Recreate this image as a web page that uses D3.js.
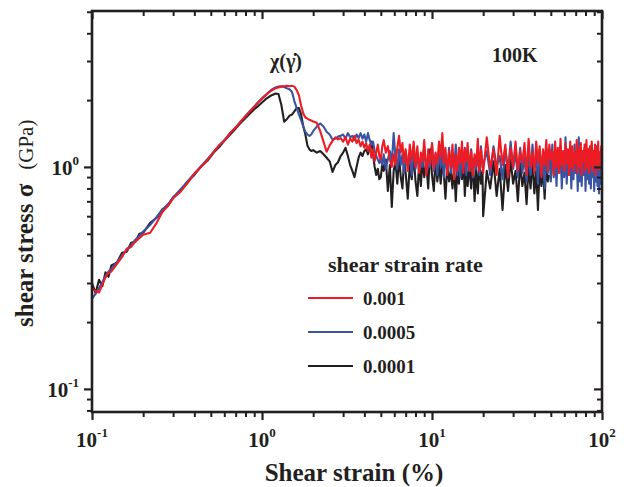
<!DOCTYPE html>
<html><head><meta charset="utf-8">
<script src="https://cdn.jsdelivr.net/npm/d3@7"></script>
<style>body{margin:0;background:#fff}svg{display:block}</style>
</head><body><svg id="c" width="628" height="487"></svg>
<script>
// ---- data ----
const strain = [
0.1,0.105,0.11,0.115,0.12,0.125,0.13,0.14,0.15,0.16,
0.17,0.18,0.19,0.2,0.22,0.24,0.26,0.28,0.3,0.33,
0.36,0.4,0.44,0.48,0.52,0.56,0.6,0.65,0.7,0.75,
0.8,0.85,0.9,0.95,1.0,1.05,1.1,1.15,1.2,1.25,
1.3,1.35,1.4,1.45,1.5,1.55,1.6,1.65,1.7,1.75,
1.8,1.85,1.9,1.95,2.0,2.1,2.2,2.3,2.4,2.5,
2.6,2.7,2.8,2.9,
3.0,3.1,3.2,3.3,3.4,3.5,3.6,3.7,3.8,3.9,
4.0,4.1,4.2,4.3,4.4,4.5,4.6,4.7,4.8,4.9,
5.0,5.1,5.2,5.35,5.5,5.65,5.8,5.95,6.1,6.25,
6.4,6.55,6.7,6.85,7.0,7.2,7.4,7.6,7.8,8.0,
8.2,8.4,8.6,8.8,9.0,9.25,9.5,9.75,10,10.25,
10.5,10.75,11,11.25,11.5,11.75,12,12.3,12.6,12.9,
13.2,13.5,13.8,14.1,14.4,14.7,15,15.3,15.6,15.9,
16.2,16.6,17,17.4,17.8,18.2,18.6,19,19.4,19.8,
20,21,22,23,24,25,26,27,28,29,
30,31,32,33,34,35,36,37,38,39,
40,41,42,43,44,45,46,47,48,49,
50,51,52,53,54,55,56,57,58,59,
60,61,62,63,64,65,66,67,68,69,
70,71,72,73,74,75,76,77,78,79,
80,81,82,83,84,85,86,87,88,89,
90,91,92,93,94,95,96,97,98,99,
100];

const rate001 = [
0.283,0.276,0.272,0.295,0.318,0.333,0.338,0.365,0.392,0.428,
0.436,0.462,0.478,0.495,0.505,0.560,0.628,0.668,0.722,0.770,
0.835,0.930,1.005,1.075,1.165,1.255,1.310,1.425,1.500,1.605,
1.690,1.780,1.860,1.950,2.03,2.10,2.17,2.22,2.26,2.28,
2.30,2.31,2.32,2.31,2.32,2.30,2.22,2.10,1.88,1.74,
1.67,1.65,1.63,1.62,1.60,1.58,1.45,1.30,1.17,1.25,
1.31,1.36,1.33,1.35,
1.30,1.36,1.26,1.34,1.30,1.38,1.28,1.33,1.24,1.30,
1.22,1.28,1.18,1.26,1.10,1.20,1.06,1.16,1.26,1.12,
1.08,1.24,1.32,1.16,1.24,1.08,1.00,1.14,1.02,1.22,
1.38,1.16,1.28,1.04,1.20,0.96,1.26,1.06,1.30,1.00,
1.24,0.94,1.16,1.06,1.32,0.92,1.20,1.02,1.28,0.98,
1.16,1.04,1.30,1.10,1.42,1.04,1.22,0.92,1.18,1.00,
1.26,0.88,1.14,0.96,1.22,1.04,1.30,0.94,1.20,1.06,
1.28,0.96,1.18,0.92,1.14,1.00,1.34,0.96,1.20,1.02,
0.94,1.36,0.98,1.20,0.92,1.38,1.02,1.26,0.90,1.22,
1.00,1.30,0.96,1.18,1.04,1.28,0.92,1.34,1.00,1.16,
0.94,1.30,1.04,1.24,0.90,1.20,1.02,1.32,0.96,1.26,
1.08,1.18,0.92,1.30,1.00,1.22,0.94,1.34,1.02,1.18,
0.96,1.28,1.04,1.20,0.92,1.30,1.00,1.24,0.96,1.16,
1.04,1.32,0.94,1.22,1.00,1.28,0.92,1.18,1.06,1.26,
0.96,1.32,1.00,1.20,0.94,1.24,1.02,1.30,0.96,1.18,
1.04,1.26,0.92,1.22,1.00,1.30,0.98,1.16,1.04,1.24,
0.95];

const rate0005 = [
0.255,0.268,0.285,0.302,0.322,0.338,0.348,0.372,0.400,0.420,
0.445,0.470,0.490,0.512,0.548,0.595,0.642,0.680,0.728,0.790,
0.850,0.935,1.010,1.090,1.170,1.250,1.320,1.420,1.510,1.600,
1.695,1.785,1.870,1.960,2.04,2.11,2.18,2.24,2.28,2.30,
2.31,2.29,2.26,2.24,2.18,1.98,1.84,1.72,1.62,1.52,
1.44,1.40,1.38,1.40,1.45,1.52,1.57,1.52,1.44,1.40,
1.33,1.34,1.37,1.38,
1.40,1.34,1.42,1.36,1.38,1.32,1.40,1.35,1.42,1.34,
1.40,1.30,1.42,1.32,1.26,1.30,1.18,1.12,1.08,1.04,
1.10,1.02,1.14,0.98,1.08,1.18,1.04,1.42,1.10,0.98,
1.20,1.02,1.14,0.94,1.18,1.00,1.12,0.92,1.20,0.98,
1.16,0.96,1.10,1.00,1.24,0.94,1.12,1.00,1.26,0.96,
1.14,0.92,1.20,1.00,1.16,0.90,1.12,0.96,1.22,0.94,
1.08,0.98,1.26,0.92,1.14,0.90,1.18,1.00,1.22,0.92,
1.14,0.96,1.20,0.90,1.10,0.98,1.18,0.92,1.24,1.00,
1.02,1.18,0.92,1.24,1.00,1.12,0.88,1.20,0.96,1.30,
0.98,1.16,0.90,1.22,0.94,1.10,0.86,1.18,0.92,1.26,
0.96,1.12,0.84,1.20,0.92,1.14,0.80,1.22,0.94,1.16,
0.86,1.26,0.90,1.14,0.82,1.18,0.94,1.24,0.80,1.12,
0.90,1.36,0.84,1.16,0.92,1.20,0.80,1.12,0.88,1.26,
0.94,1.10,0.78,1.36,0.86,1.18,0.82,1.14,0.92,1.22,
0.78,1.10,0.88,1.20,0.84,1.14,0.80,1.26,0.90,1.12,
0.78,1.18,0.86,1.24,0.82,1.10,0.76,1.16,0.84,1.08,
0.74];

const rate0001 = [
0.300,0.270,0.310,0.290,0.335,0.320,0.360,0.370,0.410,0.415,
0.455,0.460,0.500,0.505,0.560,0.590,0.645,0.670,0.730,0.775,
0.850,0.920,1.010,1.070,1.160,1.230,1.310,1.400,1.490,1.580,
1.660,1.740,1.820,1.880,1.950,2.020,2.070,2.110,2.140,2.130,
1.90,1.60,1.64,1.70,1.72,1.78,1.84,1.84,1.72,1.52,
1.40,1.25,1.20,1.18,1.19,1.16,1.18,1.14,1.10,1.06,
0.95,1.02,1.05,1.12,
1.16,1.22,1.12,1.02,0.96,0.90,1.00,1.10,1.16,1.12,
1.18,1.20,1.14,1.22,1.30,1.14,1.00,0.92,0.98,0.88,
0.90,1.04,0.96,1.08,0.78,1.02,0.66,0.96,1.06,0.84,
1.12,0.90,0.80,1.08,0.94,0.72,1.02,0.88,1.14,0.86,
0.74,1.04,0.82,1.08,0.90,1.04,0.80,1.20,0.92,0.78,
1.10,0.86,1.04,0.84,1.06,0.92,0.72,1.02,0.86,0.96,
0.80,1.00,0.70,0.98,0.84,1.06,0.88,1.12,0.74,1.00,
0.82,1.02,0.80,1.08,0.70,0.98,0.76,1.04,0.84,0.96,
0.60,0.96,0.80,1.06,0.74,0.98,0.64,1.02,0.78,1.08,
0.84,0.96,0.70,1.04,0.82,0.94,0.68,1.00,0.80,1.06,
0.76,0.96,0.64,1.02,0.82,0.98,0.72,1.04,0.86,0.92];

const legendTitle = "shear strain rate";
const seriesNames = ["0.001", "0.0005", "0.0001"];
const seriesColors = ["#ec1c24", "#3a54a4", "#231f20"];

const xMajor = [0.1, 1, 10, 100];
const xMajorExp = ["-1", "0", "1", "2"];
const xMinor = [0.2,0.3,0.4,0.5,0.6,0.7,0.8,0.9,2,3,4,5,6,7,8,9,20,30,40,50,60,70,80,90];
const yMajor = [0.1, 1];
const yMajorExp = ["-1", "0"];
const yMinor = [0.08,0.09,0.2,0.3,0.4,0.5,0.6,0.7,0.8,0.9,2,3,4,5];

// ---- drawing ----
const FONT = '"Liberation Serif","Times New Roman",serif';
const L = 92, R = 602, T = 11, B = 412;
const x = d3.scaleLog().domain([0.1, 100]).range([L, R]);
const y = d3.scaleLog().domain([0.0787, 5.04]).range([B, T]);
const svg = d3.select("#c");

svg.append("defs").append("clipPath").attr("id", "clip")
  .append("rect").attr("x", L).attr("y", T).attr("width", R - L).attr("height", B - T);

const line = d3.line().x(d => x(d[0])).y(d => y(d[1]));
const valsList = [rate001, rate0005, rate0001];
const gData = svg.append("g").attr("clip-path", "url(#clip)");
[2, 1, 0].forEach(k => {
  const pts = valsList[k].map((v, i) => [strain[i], v]);
  gData.append("path").attr("d", line(pts)).attr("fill", "none")
    .attr("stroke", seriesColors[k]).attr("stroke-width", 2.1)
    .attr("stroke-linejoin", "round");
});

function ticks(gen, tx, ty, vals, size, sw) {
  svg.append("g").attr("transform", `translate(${tx},${ty})`)
    .call(gen.tickValues(vals).tickSize(size).tickFormat(""))
    .call(g => { g.select(".domain").remove(); g.selectAll("line").attr("stroke", "#231f20").attr("stroke-width", sw); });
}
ticks(d3.axisBottom(x), 0, B, xMajor, 8, 2.2);
ticks(d3.axisBottom(x), 0, B, xMinor, 5, 2);
ticks(d3.axisTop(x), 0, T, xMajor, -8, 2.2);
ticks(d3.axisTop(x), 0, T, xMinor, -5, 2);
ticks(d3.axisLeft(y), L, 0, yMajor, 8, 2.2);
ticks(d3.axisLeft(y), L, 0, yMinor, 5, 2);
ticks(d3.axisRight(y), R, 0, yMajor, -8, 2.2);
ticks(d3.axisRight(y), R, 0, yMinor, -5, 2);

svg.append("rect").attr("x", L).attr("y", T).attr("width", R - L).attr("height", B - T)
  .attr("fill", "none").attr("stroke", "#231f20").attr("stroke-width", 2.6);

function powLabel(px, py, exp, anchor) {
  const t = svg.append("text").attr("x", px).attr("y", py).attr("text-anchor", anchor)
    .attr("font-family", FONT).attr("font-weight", "bold").attr("font-size", 21).attr("fill", "#231f20");
  t.append("tspan").text("10");
  t.append("tspan").attr("dy", -10).attr("font-size", 13).text(exp);
}
xMajor.forEach((v, i) => powLabel(x(v), 447, xMajorExp[i], "middle"));
yMajor.forEach((v, i) => powLabel(79, y(v) + 8, yMajorExp[i], "end"));

svg.append("text").attr("x", 354).attr("y", 481).attr("text-anchor", "middle")
  .attr("font-family", FONT).attr("font-weight", "bold").attr("font-size", 25).attr("fill", "#231f20")
  .text("Shear strain (%)");

const yl = svg.append("text").attr("transform", "translate(33,327) rotate(-90)")
  .attr("font-family", FONT).attr("fill", "#231f20");
yl.append("tspan").attr("font-weight", "bold").attr("font-size", 25).text("shear stress σ");
yl.append("tspan").attr("font-size", 21).attr("dx", 14).text("(GPa)");

svg.append("text").attr("x", 492).attr("y", 62).attr("font-family", FONT).attr("font-weight", "bold")
  .attr("font-size", 20).attr("fill", "#231f20").text("100K");

svg.append("text").attr("x", 270).attr("y", 68).attr("font-family", FONT).attr("font-weight", "bold")
  .attr("font-size", 20).attr("fill", "#231f20").text("χ(γ\u0307)");

svg.append("text").attr("x", 328).attr("y", 272).attr("font-family", FONT).attr("font-weight", "bold")
  .attr("font-size", 22).attr("fill", "#231f20").text(legendTitle);
const legY = [298, 332, 366];
seriesNames.forEach((n, i) => {
  svg.append("line").attr("x1", 308).attr("x2", 353).attr("y1", legY[i]).attr("y2", legY[i])
    .attr("stroke", seriesColors[i]).attr("stroke-width", 1.8);
  svg.append("text").attr("x", 363).attr("y", legY[i] + 7).attr("font-family", FONT).attr("font-weight", "bold")
    .attr("font-size", 19).attr("fill", "#231f20").text(n);
});
</script></body></html>
